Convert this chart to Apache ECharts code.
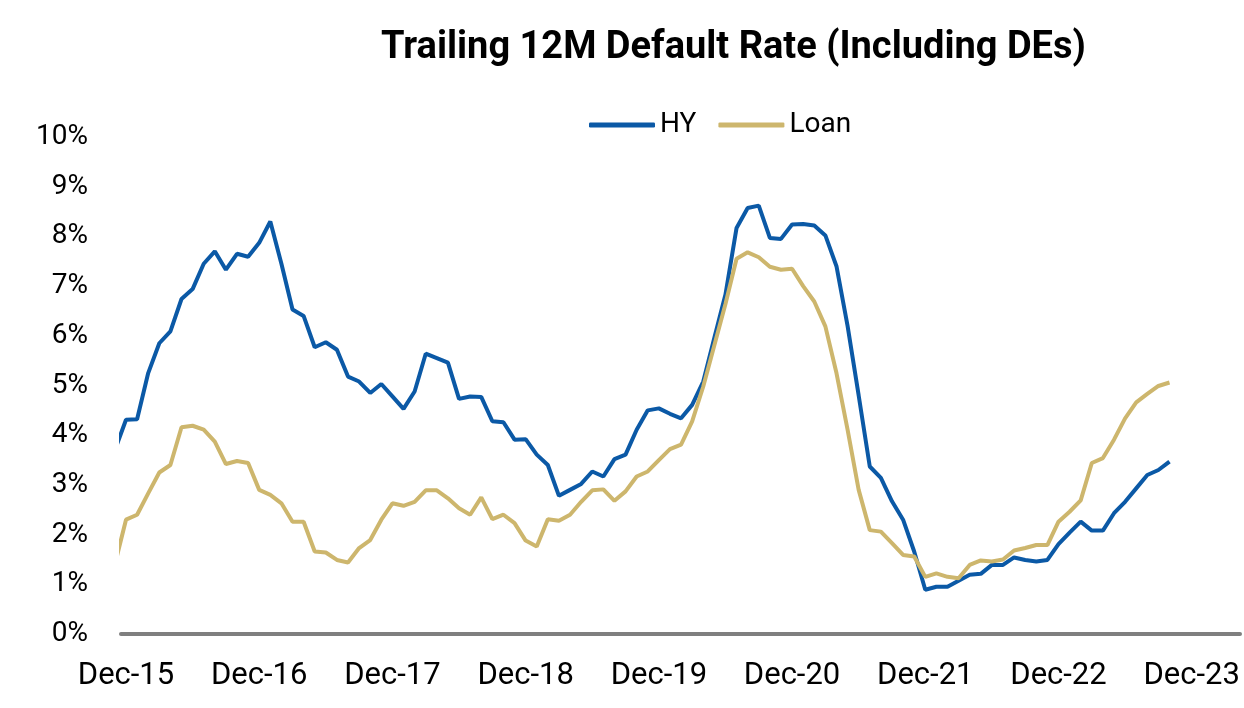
<!DOCTYPE html>
<html>
<head>
<meta charset="utf-8">
<script src="https://cdn.jsdelivr.net/npm/echarts@6/dist/echarts.min.js"></script>
<style>
html,body{margin:0;padding:0;background:#fff;}
#chart{width:1244px;height:708px;}
</style>
</head>
<body>
<div id="chart"></div>
<script>
// Monthly observations, Nov-15 .. Oct-23 (Nov-15 sits just left of the plot edge)
const months = [
  "Nov-15","Dec-15",
  "Jan-16","Feb-16","Mar-16","Apr-16","May-16","Jun-16","Jul-16","Aug-16","Sep-16","Oct-16","Nov-16","Dec-16",
  "Jan-17","Feb-17","Mar-17","Apr-17","May-17","Jun-17","Jul-17","Aug-17","Sep-17","Oct-17","Nov-17","Dec-17",
  "Jan-18","Feb-18","Mar-18","Apr-18","May-18","Jun-18","Jul-18","Aug-18","Sep-18","Oct-18","Nov-18","Dec-18",
  "Jan-19","Feb-19","Mar-19","Apr-19","May-19","Jun-19","Jul-19","Aug-19","Sep-19","Oct-19","Nov-19","Dec-19",
  "Jan-20","Feb-20","Mar-20","Apr-20","May-20","Jun-20","Jul-20","Aug-20","Sep-20","Oct-20","Nov-20","Dec-20",
  "Jan-21","Feb-21","Mar-21","Apr-21","May-21","Jun-21","Jul-21","Aug-21","Sep-21","Oct-21","Nov-21","Dec-21",
  "Jan-22","Feb-22","Mar-22","Apr-22","May-22","Jun-22","Jul-22","Aug-22","Sep-22","Oct-22","Nov-22","Dec-22",
  "Jan-23","Feb-23","Mar-23","Apr-23","May-23","Jun-23","Jul-23","Aug-23","Sep-23","Oct-23"
];

const hy = [
  3.70,4.31,
  4.32,5.25,5.85,6.09,6.74,6.94,7.45,7.70,7.33,7.65,7.59,7.87,
  8.30,7.45,6.53,6.40,5.77,5.87,5.72,5.18,5.08,4.85,5.03,4.78,
  4.53,4.88,5.64,5.55,5.46,4.73,4.78,4.77,4.28,4.26,3.91,3.92,
  3.61,3.40,2.78,2.90,3.02,3.27,3.17,3.52,3.61,4.11,4.50,4.54,
  4.43,4.34,4.61,5.08,5.96,6.83,8.17,8.57,8.62,7.97,7.95,8.24,
  8.25,8.22,8.02,7.40,6.20,4.80,3.37,3.14,2.67,2.30,1.66,0.89,
  0.95,0.95,1.07,1.19,1.21,1.39,1.39,1.54,1.49,1.46,1.49,1.81,
  2.04,2.26,2.08,2.08,2.43,2.66,2.93,3.20,3.30,3.47
];

const loan = [
  1.40,2.30,
  2.40,2.83,3.25,3.40,4.16,4.19,4.11,3.87,3.42,3.48,3.44,2.90,
  2.80,2.63,2.26,2.26,1.66,1.64,1.49,1.44,1.73,1.89,2.30,2.63,
  2.58,2.66,2.89,2.89,2.73,2.53,2.40,2.75,2.31,2.40,2.23,1.88,
  1.76,2.31,2.28,2.40,2.66,2.89,2.91,2.68,2.87,3.17,3.27,3.50,
  3.72,3.81,4.28,4.98,5.81,6.64,7.55,7.68,7.58,7.39,7.33,7.35,
  7.00,6.69,6.19,5.25,4.11,2.90,2.09,2.06,1.83,1.59,1.56,1.15,
  1.22,1.15,1.12,1.39,1.48,1.46,1.50,1.68,1.73,1.79,1.79,2.26,
  2.46,2.69,3.44,3.54,3.91,4.34,4.66,4.83,4.99,5.06
];

const tickLabels = ["Dec-15","Dec-16","Dec-17","Dec-18","Dec-19","Dec-20","Dec-21","Dec-22","Dec-23"];

// month position: Dec-15 = 0
const firstOffset = months.indexOf("Dec-15");
const toPairs = arr => arr.map((v, i) => [i - firstOffset, v]);
const tickPos = tickLabels.map(l => {
  const i = months.indexOf(l);
  return i >= 0 ? i - firstOffset : 12 * tickLabels.indexOf(l);
});

const chart = echarts.init(document.getElementById('chart'), null, {renderer: 'canvas'});
const FONT = 'Roboto';
chart.setOption({
  backgroundColor: '#ffffff',
  animation: false,
  title: {
    text: 'Trailing 12M Default Rate (Including DEs)',
    left: 376,
    top: 24,
    textStyle: {fontFamily: FONT, fontWeight: 'bold', fontSize: 38, color: '#000'}
  },
  legend: {
    data: ['HY', 'Loan'],
    left: 584,
    top: 106,
    itemWidth: 66,
    itemHeight: 5,
    itemGap: 22,
    icon: 'roundRect',
    textStyle: {fontFamily: FONT, fontSize: 28, color: '#000'}
  },
  grid: {left: 121, right: 4, top: 137, bottom: 74, containLabel: false},
  xAxis: {
    type: 'value',
    min: -0.45,
    max: 100.35,
    axisLine: {show: true, onZero: false, lineStyle: {color: '#7f7f7f', width: 4, cap: 'round'}},
    axisTick: {show: false},
    splitLine: {show: false},
    axisLabel: {
      customValues: tickPos,
      formatter: v => tickLabels[tickPos.indexOf(v)] || '',
      fontFamily: FONT, fontSize: 31, color: '#000', margin: 27
    }
  },
  yAxis: {
    type: 'value',
    min: 0, max: 10, interval: 1,
    axisLine: {show: false},
    axisTick: {show: false},
    splitLine: {show: false},
    axisLabel: {formatter: '{value}%', fontFamily: FONT, fontSize: 28, color: '#000', margin: 33, padding: [10, 0, 0, 0]}
  },
  series: [
    {name: 'HY', type: 'line', data: toPairs(hy), showSymbol: false, symbol: 'none',
     lineStyle: {color: '#0b59a6', width: 4}, itemStyle: {color: '#0b59a6'}, clip: true},
    {name: 'Loan', type: 'line', data: toPairs(loan), showSymbol: false, symbol: 'none',
     lineStyle: {color: '#cdb66d', width: 4}, itemStyle: {color: '#cdb66d'}, clip: true}
  ]
});
</script>
</body>
</html>
